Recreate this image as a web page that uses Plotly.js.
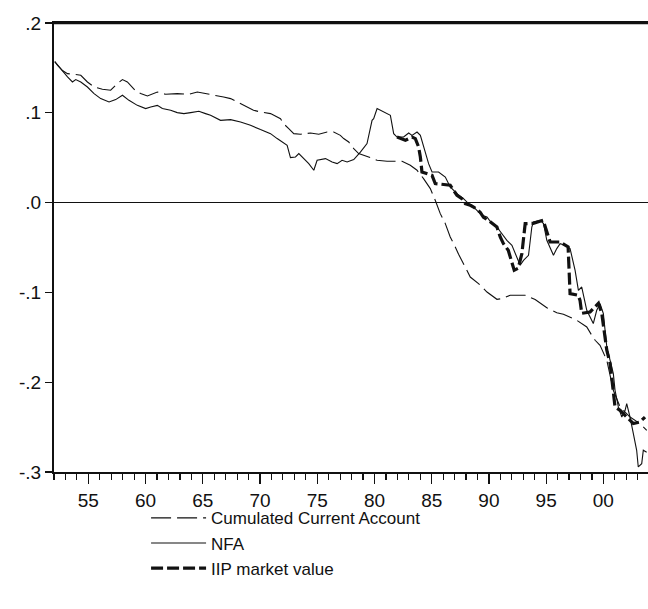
<!DOCTYPE html>
<html>
<head>
<meta charset="utf-8">
<script src="https://cdn.plot.ly/plotly-3.0.1.min.js"></script>
<style>html,body{margin:0;padding:0;background:#fff;}#chart{width:648px;height:609px;}</style>
</head>
<body>
<div id="chart"></div>
<script>
// Cumulated Current Account (share of GDP)
const ccaYears = [1952.07,1952.30,1952.74,1953.18,1953.73,1954.34,1954.92,1955.50,1956.23,1956.95,1957.54,1957.98,1958.41,1958.70,1959.14,1959.57,1960.16,1961.03,1961.75,1962.77,1963.79,1964.52,1965.68,1966.82,1967.43,1968.30,1969.43,1970.04,1970.92,1971.79,1972.05,1972.51,1972.95,1973.53,1974.41,1975.13,1975.86,1976.44,1977.02,1977.31,1977.75,1978.19,1978.62,1979.49,1980.23,1981.10,1982.41,1983.13,1983.72,1984.29,1984.88,1985.31,1985.75,1986.19,1986.62,1987.06,1987.35,1987.93,1988.37,1989.09,1989.83,1990.70,1991.14,1991.86,1993.17,1994.04,1995.06,1995.93,1996.51,1997.68,1998.55,1998.99,1999.28,1999.71,2000.00,2000.30,2000.87,2001.46,2002.33,2003.20,2003.79];
const ccaValues = [0.157,0.153,0.147,0.1436,0.1429,0.1418,0.1343,0.1287,0.1262,0.1251,0.1325,0.137,0.1343,0.1306,0.1243,0.1214,0.1187,0.1232,0.1206,0.1214,0.1206,0.1232,0.1206,0.1176,0.1158,0.1102,0.1028,0.1009,0.0991,0.0935,0.0880,0.0824,0.0768,0.0761,0.0775,0.0761,0.0786,0.0786,0.0749,0.0713,0.0675,0.0601,0.0546,0.0508,0.0471,0.0460,0.0460,0.0416,0.0360,0.0267,0.0156,0.0026,-0.0123,-0.0234,-0.0383,-0.0494,-0.0576,-0.0717,-0.0829,-0.0902,-0.0996,-0.1077,-0.1069,-0.1032,-0.1032,-0.1080,-0.1171,-0.1227,-0.1244,-0.1311,-0.1385,-0.1478,-0.1533,-0.1589,-0.1664,-0.1756,-0.209,-0.2276,-0.2388,-0.2461,-0.2536];

// NFA
const nfaYears = [1952.07,1952.44,1952.88,1953.18,1953.61,1953.90,1954.34,1954.92,1955.50,1956.08,1956.81,1957.39,1957.98,1958.55,1959.28,1960.01,1960.45,1961.03,1961.47,1962.19,1962.77,1963.35,1963.94,1964.66,1965.24,1965.68,1966.55,1967.43,1968.30,1969.17,1970.04,1970.92,1971.50,1971.94,1972.37,1972.66,1973.10,1973.39,1973.82,1974.26,1974.70,1974.99,1975.72,1976.30,1976.74,1977.17,1977.61,1978.19,1978.77,1979.35,1979.79,1979.93,1980.23,1980.80,1981.39,1981.68,1981.97,1982.55,1982.99,1983.28,1983.72,1984.01,1984.29,1984.73,1985.03,1985.60,1986.19,1986.62,1987.21,1987.78,1988.22,1988.52,1988.95,1989.39,1989.83,1990.26,1990.70,1991.14,1991.57,1992.01,1992.44,1992.73,1993.02,1993.46,1993.75,1993.89,1994.48,1994.77,1995.06,1995.64,1995.93,1996.22,1996.65,1997.09,1997.53,1997.82,1998.11,1998.55,1998.84,1999.12,1999.42,1999.71,2000.00,2000.30,2000.59,2000.87,2001.02,2001.31,2001.61,2001.90,2002.04,2002.33,2002.62,2002.91,2003.05,2003.35,2003.49,2003.78];
const nfaValues = [0.157,0.151,0.1437,0.1399,0.1343,0.137,0.1343,0.1287,0.1214,0.1158,0.1120,0.1147,0.1195,0.1139,0.1083,0.1047,0.1065,0.1083,0.1047,0.1028,0.1002,0.0991,0.1002,0.1017,0.0991,0.0972,0.0916,0.0924,0.0898,0.0861,0.0813,0.0768,0.0713,0.0675,0.0638,0.0501,0.0508,0.0546,0.0490,0.0434,0.0360,0.0471,0.0490,0.0452,0.0434,0.0471,0.0452,0.0479,0.0563,0.0657,0.0916,0.0935,0.1047,0.1009,0.0972,0.0768,0.0730,0.0730,0.0775,0.0749,0.0786,0.0749,0.0619,0.0434,0.0341,0.0341,0.0285,0.0174,0.0100,0.0045,-0.0011,-0.0030,-0.0086,-0.0141,-0.0160,-0.0234,-0.0272,-0.0345,-0.0420,-0.0476,-0.0606,-0.0698,-0.0643,-0.0587,-0.0272,-0.0216,-0.0197,-0.0234,-0.0420,-0.0587,-0.0512,-0.0457,-0.0476,-0.0512,-0.0754,-0.0977,-0.0940,-0.1199,-0.1274,-0.1347,-0.1199,-0.1125,-0.1236,-0.1608,-0.1756,-0.1904,-0.2090,-0.2276,-0.2388,-0.2313,-0.2238,-0.2388,-0.2573,-0.2758,-0.2944,-0.2907,-0.2758,-0.2780];

// IIP market value
const iipYears = [1981.97,1982.70,1983.28,1983.57,1983.86,1984.01,1984.15,1985.03,1985.31,1986.62,1986.91,1987.21,1987.64,1987.93,1988.37,1988.66,1989.24,1989.53,1989.94,1990.70,1990.99,1991.27,1991.69,1992.01,1992.21,1992.56,1992.88,1993.17,1993.87,1994.74,1995.06,1995.35,1996.22,1996.92,1997.09,1997.79,1997.96,1998.11,1998.84,1999.28,1999.57,1999.86,2000.00,2000.30,2000.59,2000.87,2001.02,2001.46,2002.04,2002.62,2003.20,2003.64];
const iipValues = [0.073,0.0694,0.073,0.0713,0.0619,0.0508,0.0341,0.0304,0.0212,0.0193,0.0137,0.0082,0.0044,-0.0011,-0.0030,-0.0049,-0.0108,-0.0164,-0.0197,-0.0272,-0.0383,-0.0457,-0.0531,-0.0665,-0.0754,-0.0731,-0.0568,-0.0234,-0.0231,-0.0197,-0.0331,-0.0439,-0.0439,-0.0494,-0.1013,-0.1032,-0.1088,-0.1233,-0.1218,-0.1155,-0.1121,-0.1233,-0.1385,-0.1645,-0.1793,-0.2127,-0.2276,-0.2313,-0.2388,-0.2461,-0.2443,-0.2388];

const yTickVals = [0.2,0.1,0.0,-0.1,-0.2,-0.3];
const yTickText = ['.2','.1','.0','-.1','-.2','-.3'];
const xTickVals = [1955,1960,1965,1970,1975,1980,1985,1990,1995,2000];
const xTickText = ['55','60','65','70','75','80','85','90','95','00'];

const traces = [
  {x: ccaYears, y: ccaValues, name: 'Cumulated Current Account', type: 'scatter', mode: 'lines',
   line: {color: '#111', width: 1.1, dash: '20px,6px'}},
  {x: nfaYears, y: nfaValues, name: 'NFA', type: 'scatter', mode: 'lines',
   line: {color: '#111', width: 1.1}},
  {x: iipYears, y: iipValues, name: 'IIP market value', type: 'scatter', mode: 'lines',
   line: {color: '#111', width: 3.2, dash: '12px,4px'}}
];

const font = {family: 'Liberation Sans, Arial, Helvetica, sans-serif', color: '#111'};

const layout = {
  width: 648, height: 609,
  margin: {l: 54, r: 0, t: 23, b: 137},
  paper_bgcolor: '#fff', plot_bgcolor: '#fff',
  showlegend: true,
  font: Object.assign({size: 18}, font),
  xaxis: {
    range: [1952, 2003.9], showgrid: false, zeroline: false,
    showline: true, linecolor: '#111', linewidth: 2, mirror: true,
    tickvals: xTickVals, ticktext: xTickText,
    ticks: 'outside', ticklen: 10, tickwidth: 1.2, tickcolor: '#111',
    minor: {dtick: 1, ticks: 'outside', ticklen: 6, tickwidth: 1.2, tickcolor: '#111', showgrid: false},
    tickfont: Object.assign({size: 19}, font)
  },
  yaxis: {
    range: [-0.3, 0.2], showgrid: false,
    zeroline: true, zerolinecolor: '#111', zerolinewidth: 1.2,
    showline: true, linecolor: '#111', linewidth: 2, mirror: false,
    tickvals: yTickVals, ticktext: yTickText,
    ticks: 'outside', ticklen: 7, tickwidth: 1.2, tickcolor: '#111',
    tickfont: Object.assign({size: 19}, font)
  },
  shapes: [
    {type: 'line', xref: 'paper', yref: 'paper', x0: 0, x1: 1, y0: 1, y1: 1,
     line: {color: '#111', width: 2.5}}
  ],
  legend: {
    x: 0.155, y: -0.063, xanchor: 'left', yanchor: 'top',
    bgcolor: 'rgba(0,0,0,0)', borderwidth: 0,
    itemwidth: 55, tracegroupgap: 0,
    font: Object.assign({size: 17}, font)
  }
};

Plotly.newPlot('chart', traces, layout, {displayModeBar: false, staticPlot: true});
</script>
</body>
</html>
